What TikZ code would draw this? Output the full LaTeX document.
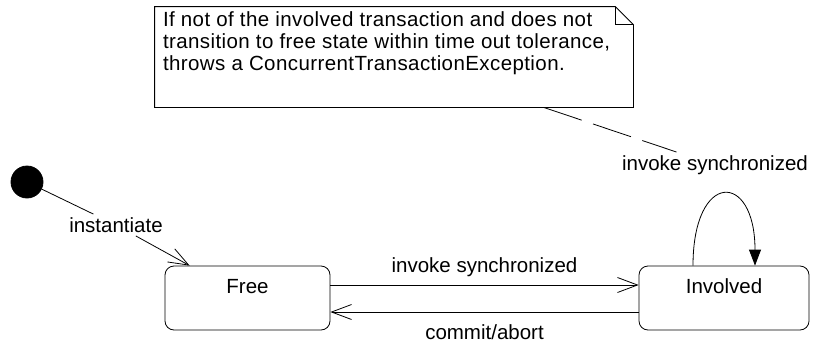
\documentclass[tikz,border=0pt]{standalone}
\usepackage{fontspec}
\setmainfont{Liberation Sans}
\usetikzlibrary{arrows.meta,math}

\begin{document}
\begin{tikzpicture}[x=1pt, y=-1pt, line width=0.8pt, font=\fontsize{20.5}{22}\selectfont,
  state/.style={draw, rounded corners=9pt, text height=15pt, text depth=25pt, inner ysep=12pt},
  initstate/.style={draw, fill, circle, minimum size=32pt, inner sep=0pt},
  trans/.style={-{Straight Barb[length=20pt,width=15pt]}},
  selftrans/.style={-{Triangle[length=16pt,width=12pt]}},
  noteline/.style={dash pattern=on 40pt off 12pt},
  lbl/.style={inner sep=3pt}]
  \tikzmath{\f = 18;}

  \useasboundingbox (0,0) rectangle (827,343);

  \node[inner xsep=8pt, inner ysep=5pt] (note) at (394,57) {\begin{minipage}[c][90pt][t]{462pt}
    \addfontfeature{LetterSpace=2}%
    If not of the involved transaction and does not\\
    transition to free state within time out tolerance,\\
    throws a ConcurrentTransactionException.\end{minipage}};
  \draw (note.south west) -- (note.north west) -- ([xshift=-\f pt]note.north east)
    -- ([yshift=-\f pt]note.north east) -- (note.south east) -- cycle;
  \draw ([xshift=-\f pt]note.north east) |- ([yshift=-\f pt]note.north east);

  \node[initstate] (init) at (27,182) {};
  \node[lbl] (instlbl) at (116,225) {instantiate};

  \node[state, minimum width=165pt] (free) at (247.5,298) {Free};
  \node[state, minimum width=170pt] (involved) at (724,298) {Involved};

  \draw (init) -- (instlbl);
  \draw[trans] (instlbl) -- ([xshift=25pt]free.north west);

  \draw[trans] ([yshift=13pt]free.east) -- node[lbl, above=5pt] (invlbl) {invoke synchronized}
    ([yshift=13pt]involved.west);
  \draw[trans] ([yshift=-14pt]involved.west) -- node[lbl, below=9pt] (commitlbl) {commit/abort}
    ([yshift=-14pt]free.east);

  \node[lbl] (looplbl) at (715,165) {invoke synchronized};
  \draw[selftrans] ([xshift=-31pt]involved.north) .. controls +(0,-95) and +(0,-95)
    .. ([xshift=31pt]involved.north);

  \draw[noteline] (note) -- (looplbl);
\end{tikzpicture}
\end{document}
